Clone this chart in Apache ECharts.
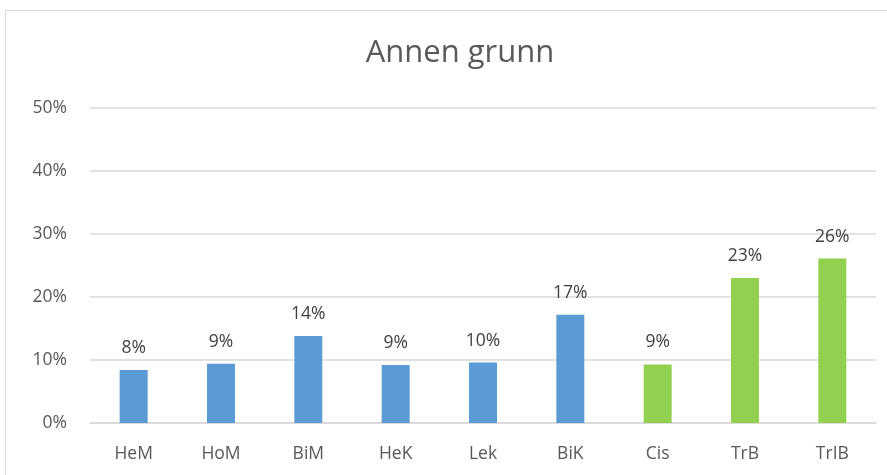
<!DOCTYPE html>
<html>
<head>
<meta charset="utf-8">
<script src="https://cdn.jsdelivr.net/npm/echarts@6/dist/echarts.min.js"></script>
<style>
  html,body{margin:0;padding:0;background:#fff;}
  #frame{position:absolute;left:5px;top:10px;width:900px;height:480px;border:1px solid #d9d9d9;box-sizing:border-box;}
  #main{position:absolute;left:0;top:0;width:887px;height:475px;}
</style>
</head>
<body>
<div id="frame"></div>
<div id="main"></div>
<script>
  // data
  var categories = ['HeM', 'HoM', 'BiM', 'HeK', 'Lek', 'BiK', 'Cis', 'TrB', 'TrIB'];
  var values = [8.4, 9.4, 13.8, 9.2, 9.6, 17.2, 9.3, 23.0, 26.1];
  var barColors = ['#5B9BD5', '#5B9BD5', '#5B9BD5', '#5B9BD5', '#5B9BD5', '#5B9BD5', '#92D050', '#92D050', '#92D050'];

  var font = '"Open Sans", "Liberation Sans", sans-serif';
  var chart = echarts.init(document.getElementById('main'));
  chart.setOption({
    animation: false,
    title: {
      text: 'Annen grunn',
      left: 455,
      textAlign: 'center',
      top: 33,
      textStyle: { fontFamily: font, fontSize: 31, fontWeight: 'normal', color: '#595959' }
    },
    grid: { left: 90, right: 11, top: 108, bottom: 52 },
    xAxis: {
      type: 'category',
      data: categories,
      axisTick: { show: false },
      axisLine: { show: true, lineStyle: { color: '#d9d9d9', width: 1.5 } },
      axisLabel: { fontFamily: font, fontSize: 17.5, color: '#595959', margin: 22 }
    },
    yAxis: {
      type: 'value',
      min: 0,
      max: 50,
      interval: 10,
      axisLine: { show: false },
      axisTick: { show: false },
      splitLine: { lineStyle: { color: '#d9d9d9', width: 1.5 } },
      axisLabel: { fontFamily: font, fontSize: 17.5, color: '#595959', margin: 23, formatter: '{value}%' }
    },
    series: [{
      type: 'bar',
      barWidth: 28,
      data: values.map(function (v, i) {
        return { value: v, itemStyle: { color: barColors[i] } };
      }),
      label: {
        show: true,
        position: 'top',
        distance: 13,
        fontFamily: font,
        fontSize: 17.5,
        color: '#404040',
        formatter: function (p) { return Math.round(p.value) + '%'; }
      }
    }]
  });
</script>
</body>
</html>
